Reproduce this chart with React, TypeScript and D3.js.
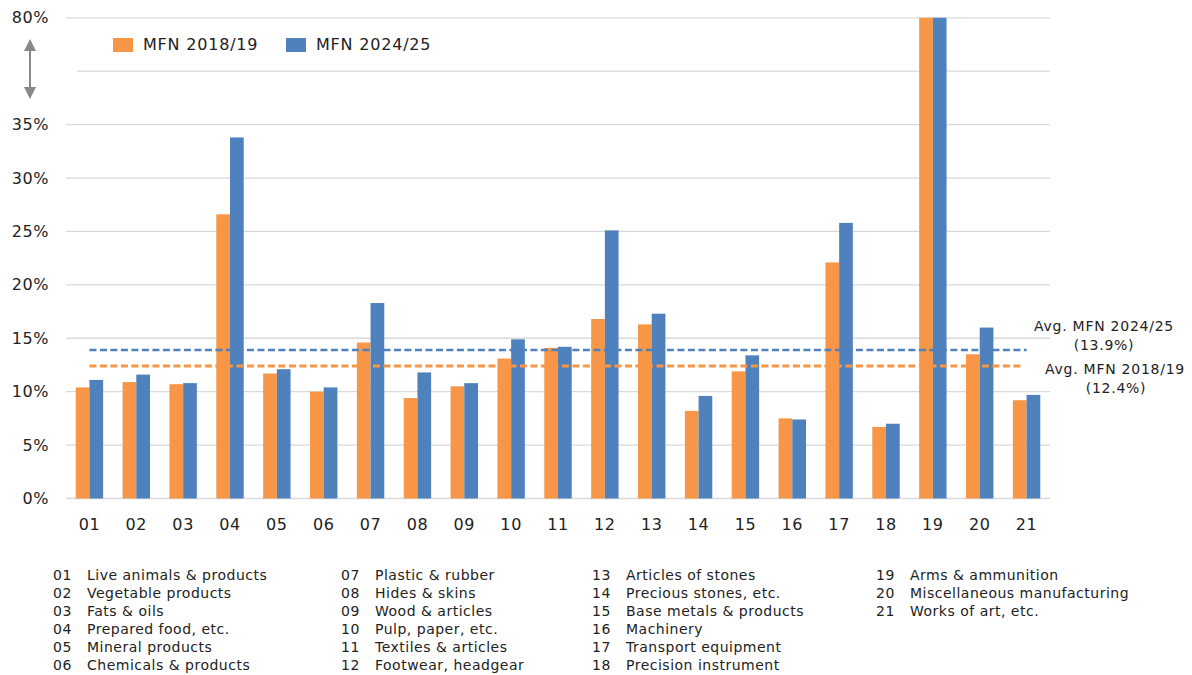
import React from "react";
import * as d3 from "d3";

const categories = ["01","02","03","04","05","06","07","08","09","10","11","12","13","14","15","16","17","18","19","20","21"];
const series = ["MFN 2018/19", "MFN 2024/25"];
const mfn2018 = [10.4,10.9,10.7,26.6,11.7,10.0,14.6,9.4,10.5,13.1,14.1,16.8,16.3,8.2,11.9,7.5,22.1,6.7,80,13.5,9.2];
const mfn2024 = [11.1,11.6,10.8,33.8,12.1,10.4,18.3,11.8,10.8,14.9,14.2,25.1,17.3,9.6,13.4,7.4,25.8,7.0,80,16.0,9.7];
const avg2018 = 12.4;
const avg2024 = 13.9;
const tickValues = [0,5,10,15,20,25,30,35,40,45];
const tickLabels = ["0%","5%","10%","15%","20%","25%","30%","35%","","80%"];
const descriptions = [
  "Live animals & products","Vegetable products","Fats & oils","Prepared food, etc.","Mineral products","Chemicals & products",
  "Plastic & rubber","Hides & skins","Wood & articles","Pulp, paper, etc.","Textiles & articles","Footwear, headgear",
  "Articles of stones","Precious stones, etc.","Base metals & products","Machinery","Transport equipment","Precision instrument",
  "Arms & ammunition","Miscellaneous manufacturing","Works of art, etc."
];

const ORANGE = "#F79646";
const BLUE = "#4F81BD";
const GRID = "#D9D9D9";
const FONT = "Verdana, 'DejaVu Sans', sans-serif";

export default function App() {
  const W = 1192, H = 675;
  const left = 66, right = 1050;
  const y = d3.scaleLinear().domain([0, 45]).range([498.5, 17.8]).clamp(true);
  const x = d3.scaleBand<string>().domain(categories).range([left, right]).padding(0);
  const xs = d3.scaleBand<string>().domain(series).range([0, x.bandwidth()]).paddingInner(0).paddingOuter(0.71);
  const vals = [mfn2018, mfn2024];
  const colors = [ORANGE, BLUE];
  const x0 = (x(categories[0]) ?? 0) + x.bandwidth() / 2;
  const x1 = (x(categories[categories.length - 1]) ?? 0) + x.bandwidth() / 2;
  const colX = [53, 341, 592, 876];
  return (
    <svg width={W} height={H} style={{ position: "absolute", left: 0, top: 0, background: "#fff" }} fontFamily={FONT}>
      <rect x={0} y={0} width={W} height={H} fill="#fff" />
      {tickValues.map((t) => (
        <line key={"g" + t} x1={t === 40 ? 77 : left} x2={right} y1={y(t)} y2={y(t)} stroke={GRID} strokeWidth={1.3} />
      ))}
      {tickValues.map((t, i) => tickLabels[i] ? (
        <text key={"t" + t} x={49} y={y(t)} dy="0.35em" textAnchor="end" fontSize={16} letterSpacing={0.6} fill="#222">{tickLabels[i]}</text>
      ) : null)}
      {/* break arrow */}
      <g stroke="#888" fill="#888">
        <line x1={30} x2={30} y1={48} y2={90} strokeWidth={2} />
        <path d="M30,39 L24,51 L36,51 Z" stroke="none" />
        <path d="M30,99 L24,87 L36,87 Z" stroke="none" />
      </g>
      {categories.map((c, i) => (
        <g key={c} transform={`translate(${x(c)},0)`}>
          {series.map((s, j) => (
            <rect key={s} x={xs(s)} width={xs.bandwidth()} y={y(vals[j][i])} height={y(0) - y(vals[j][i])} fill={colors[j]} />
          ))}
          <text x={x.bandwidth() / 2} y={524} dy="0.35em" textAnchor="middle" fontSize={16} letterSpacing={0.6} fill="#222">{c}</text>
        </g>
      ))}
      <line x1={x0} x2={x1} y1={y(avg2024)} y2={y(avg2024)} stroke={BLUE} strokeWidth={2.5} strokeDasharray="7,3.5" />
      <line x1={x0} x2={x1 - 4} y1={y(avg2018)} y2={y(avg2018)} stroke={ORANGE} strokeWidth={3} strokeDasharray="7,3.5" />
      <g fontSize={14} fill="#222" textAnchor="middle" letterSpacing={0.75}>
        <text x={1104} y={331}>Avg. MFN 2024/25</text>
        <text x={1104} y={350}>(13.9%)</text>
        <text x={1115} y={374}>Avg. MFN 2018/19</text>
        <text x={1116} y={393}>(12.4%)</text>
      </g>
      {/* legend */}
      {series.map((s, j) => (
        <g key={"l" + s} transform={`translate(${[113, 286][j]},38)`}>
          <rect x={0} y={0} width={20} height={14} fill={colors[j]} />
          <text x={30} y={12} fontSize={16} letterSpacing={0.8} fill="#222">{s}</text>
        </g>
      ))}
      {/* descriptions */}
      <g fontSize={14} fill="#222" letterSpacing={0.5}>
        {categories.map((c, i) => {
          const col = Math.floor(i / 6), row = i % 6;
          return (
            <g key={"d" + c}>
              <text x={colX[col]} y={580 + row * 18}>{c}</text>
              <text x={colX[col] + 34} y={580 + row * 18}>{descriptions[i]}</text>
            </g>
          );
        })}
      </g>
    </svg>
  );
}
